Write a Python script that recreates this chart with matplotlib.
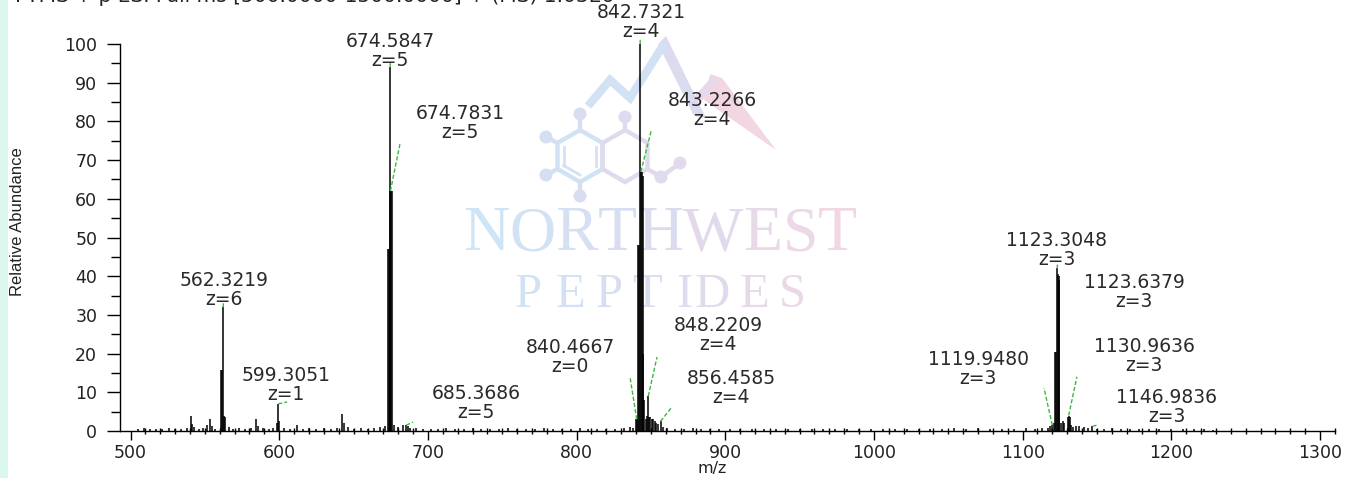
import math
import matplotlib.pyplot as plt
from matplotlib.patches import Rectangle, Circle, Polygon
from matplotlib.ticker import MultipleLocator

# centroid peaks: m/z and relative abundance
peak_mz = [505, 509, 513, 517, 521, 526, 530, 534, 538, 540.5, 541.5, 543, 546, 549,
           551.5, 553.5, 554.5, 557, 561.0, 561.6, 562.32, 563.0, 563.6, 566, 569, 573,
           577, 581, 584.5, 586, 589, 593, 596, 598.5, 599.3051, 600, 603, 607, 612, 616,
           620, 625, 630, 635, 639, 642.5, 643.5, 646, 650, 655, 660, 664, 668, 671,
           673.1, 673.7, 674.2, 674.5847, 674.7831, 675.3, 675.9, 677, 680, 683, 685.3686,
           686.5, 688, 692, 697, 702, 707, 712, 718, 724, 730, 736, 742, 748, 754, 760,
           766, 772, 778, 784, 790, 796, 802, 808, 814, 820, 826, 832, 836, 838, 839.8,
           840.4667, 841.5, 842.1, 842.7321, 843.2266, 843.8, 844.4, 845.0, 845.6, 846.5,
           847.5, 848.2209, 848.8, 849.5, 850.5, 851.5, 852.5, 853.5, 855, 856.4585, 858,
           861, 866, 872, 878, 884, 890, 896, 903, 910, 918, 926, 934, 942, 950, 958, 966,
           974, 982, 990, 998, 1006, 1014, 1022, 1030, 1038, 1046, 1054, 1062, 1070, 1078,
           1086, 1094, 1102, 1108, 1113, 1117, 1118.5, 1119.9480, 1121, 1121.6, 1122.3,
           1123.3048, 1123.6379, 1124.2, 1124.8, 1126, 1127, 1128, 1130.3, 1130.9636,
           1131.6, 1132.5, 1134, 1136, 1138, 1141, 1144, 1146.9836, 1150, 1155, 1160, 1166,
           1172, 1178, 1185, 1192, 1200, 1208, 1215, 1222, 1228]
peak_int = [0.5, 0.8, 0.4, 0.6, 0.5, 0.7, 0.5, 0.6, 0.8, 4.0, 1.8, 1.0, 0.6, 0.8,
            1.6, 3.0, 1.2, 0.6, 15.8, 15.8, 32, 4.0, 3.6, 1.0, 0.6, 0.8,
            0.5, 0.7, 3.0, 1.2, 0.8, 0.6, 0.8, 2.0, 7.0, 2.5, 0.8, 0.6, 1.5, 0.6,
            0.8, 0.6, 0.7, 0.6, 0.8, 4.5, 2.0, 1.0, 0.6, 0.7, 0.6, 0.8, 1.0, 1.2,
            47, 47, 47, 94, 62, 62, 62, 1.5, 1.0, 1.5, 1.5,
            1.2, 0.8, 0.7, 0.5, 0.6, 0.5, 0.7, 0.5, 0.6, 0.8, 0.5, 0.6, 0.5, 0.7, 0.5,
            0.6, 0.5, 0.7, 0.5, 0.6, 0.5, 0.7, 0.5, 0.6, 0.5, 0.6, 0.8, 1.0, 0.7, 3.0,
            3.0, 48, 48, 100, 67, 67, 66, 20, 8, 3.0,
            4.0, 9.0, 3.5, 3.5, 3.0, 3.0, 2.5, 2.0, 1.8, 2.5, 1.0,
            0.8, 0.6, 0.6, 0.8, 0.5, 0.6, 0.5, 0.6, 0.5, 0.6, 0.5, 0.6, 0.5, 0.5, 0.6, 0.5,
            0.6, 0.5, 0.5, 0.6, 0.5, 0.6, 0.5, 0.5, 0.6, 0.5, 0.7, 0.5, 0.7, 0.5,
            0.6, 0.5, 0.7, 0.6, 0.8, 0.8, 1.2, 1.5, 2.0, 20.5, 20.5,
            42, 40.5, 40, 39, 2.0, 2.5, 2.0, 3.5, 4.0,
            3.5, 1.5, 1.0, 1.2, 1.2, 1.0, 0.8, 1.2, 0.6, 0.6, 0.7, 0.5,
            0.6, 0.5, 0.6, 0.5, 0.5, 0.4, 0.5, 0.4, 0.3]

# annotated peaks
label_mz = [842.7321, 674.5847, 674.7831, 843.2266, 562.3219, 599.3051, 685.3686,
            840.4667, 848.2209, 856.4585, 1123.3048, 1123.6379, 1119.9480, 1130.9636,
            1146.9836]
label_z = [4, 5, 5, 4, 6, 1, 5, 0, 4, 4, 3, 3, 3, 3, 3]
label_int = [100, 94, 62, 67, 32, 7, 1.5, 3, 9, 2.5, 42, 40.5, 1.5, 4, 1.2]

# label block centres and green leader ends (data units)
label_pos = [(843.3, 105.7), (674.5, 98.3), (721.6, 79.5), (891.1, 82.9), (562.9, 36.5),
             (604.6, 11.8), (732.4, 7.2), (795.6, 19.1), (895.1, 24.7), (903.9, 11.1),
             (1123.1, 46.8), (1174.9, 35.8), (1070.0, 16.0), (1181.6, 19.3), (1197.1, 6.2)]
leader_end = [(842.8, 101.2), (674.7, 95.2), (681.3, 74.4), (850.1, 77.5), (562.4, 33.0),
              (605.3, 7.5), (690.0, 2.3), (835.9, 14.0), (854.1, 19.1), (863.5, 5.9),
              (1123.4, 43.0), (1123.7, 40.6), (1114.4, 11.1), (1136.5, 14.0), (1150.7, 1.6)]

W, H = 1363, 478
fig = plt.figure(figsize=(W / 100, H / 100), dpi=100)

# watermark layer in pixel coordinates
wm = fig.add_axes([0, 0, 1, 1], zorder=0)
wm.set_xlim(0, W)
wm.set_ylim(H, 0)
wm.axis('off')
wm.add_patch(Rectangle((0, 0), 8, H, color='#dcf7ef', lw=0))

blue = (0.80, 0.90, 0.965)
lav = (0.86, 0.86, 0.94)
pink = (0.95, 0.84, 0.89)


def wm_color(x):
    t = min(max((x - 470) / (850 - 470), 0), 1)
    if t < 0.5:
        a, b, s = blue, lav, t / 0.5
    else:
        a, b, s = lav, pink, (t - 0.5) / 0.5
    return tuple(a[i] + (b[i] - a[i]) * s for i in range(3))


# NORTHWEST letter by letter (Times advance widths) so each gets its own colour
adv = [0.722, 0.722, 0.667, 0.611, 0.722, 0.944, 0.611, 0.556, 0.611]
em = 394 / sum(adv)
x = 463
for ch, a in zip("NORTHWEST", adv):
    cx = x + a * em / 2
    wm.text(cx, 250, ch, ha='center', va='baseline', fontsize=46,
            family='Liberation Serif', color=wm_color(cx))
    x += a * em

pep_x = [528, 570, 609, 647, 684, 712, 754, 792]
for ch, cx in zip("PEPTIDES", pep_x):
    wm.text(cx, 307, ch, ha='center', va='baseline', fontsize=35,
            family='Liberation Serif', color=wm_color(cx))


# molecule logo
def hexagon(cx, cy, r):
    return [(cx + r * math.cos(math.radians(90 - 60 * k)),
             cy - r * math.sin(math.radians(90 - 60 * k))) for k in range(7)]


ring1 = hexagon(580, 156, 26)
wm.plot([p[0] for p in ring1], [p[1] for p in ring1], color=wm_color(520), lw=3.2,
        solid_joinstyle='miter')
ring2 = hexagon(625, 156, 26)
wm.plot([p[0] for p in ring2], [p[1] for p in ring2], color=wm_color(680), lw=3.2,
        solid_joinstyle='miter')
inner = hexagon(580, 156, 19)
for a, b in [(3, 4), (4, 5), (1, 2)]:
    wm.plot([inner[a][0], inner[b][0]], [inner[a][1], inner[b][1]],
            color=wm_color(520), lw=2)
stems = [((580, 130), (580, 114)), ((557.5, 143), (546, 137)),
         ((557.5, 169), (546, 175)), ((580, 182), (580, 196)),
         ((625, 130), (625, 117)), ((647.5, 169), (661, 177)), ((661, 177), (680, 163))]
for (x1, y1), (x2, y2) in stems:
    wm.plot([x1, x2], [y1, y2], color=wm_color((x1 + x2) / 2 + 40), lw=3.2)
for cx, cy in [(580, 114), (546, 137), (546, 175), (580, 196), (625, 117),
               (661, 177), (680, 163)]:
    wm.add_patch(Circle((cx, cy), 6.5, color=wm_color(cx + 40), lw=0))

# mountains
wm.plot([588, 610, 630, 664], [106, 80, 98, 44], color=wm_color(540), lw=6,
        solid_joinstyle='miter', solid_capstyle='butt')
wm.add_patch(Polygon([(658, 44), (666, 36), (706, 118), (694, 116)],
                     color=wm_color(660), lw=0))
wm.plot([697, 716], [100, 78], color=wm_color(760), lw=6, solid_capstyle='butt')
wm.add_patch(Polygon([(710, 74), (722, 78), (776, 150), (704, 100)],
                     color=wm_color(850), lw=0))

# the spectrum
ax = fig.add_axes([120 / W, 1 - 431 / H, (1335 - 120) / W, (431 - 44) / H], zorder=1)
ax.patch.set_alpha(0)
ax.vlines(peak_mz, 0, peak_int, color='black', lw=1.1, clip_on=False)

for mz, z, yi, (tx, ty), (ex, ey) in zip(label_mz, label_z, label_int, label_pos, leader_end):
    ax.plot([mz, ex], [yi, ey], color='#3cb83c', lw=1.0, ls=(0, (3, 1.5)), clip_on=False)
    ax.text(tx, ty, f"{mz:.4f}\nz={z}", ha='center', va='center', fontsize=13.5,
            color='#2a2a2a', linespacing=1.0, clip_on=False)

ax.set_xlim(492.9, 1310.1)
ax.set_ylim(0, 100)
ax.set_xticks(range(500, 1301, 100))
ax.xaxis.set_minor_locator(MultipleLocator(10))
ax.set_yticks(range(0, 101, 10))
ax.yaxis.set_minor_locator(MultipleLocator(5))
for s in ['top', 'right']:
    ax.spines[s].set_visible(False)
for s in ['left', 'bottom']:
    ax.spines[s].set_linewidth(1.0)
ax.tick_params(axis='y', which='major', length=9.4, width=1.0, pad=7, labelsize=12.5,
               labelcolor='#222222')
ax.tick_params(axis='y', which='minor', length=6.5, width=1.0)
ax.tick_params(axis='x', which='major', length=6.5, width=1.0, pad=2.5, labelsize=12.5,
               labelcolor='#222222')
ax.tick_params(axis='x', which='minor', length=4, width=1.0, direction='inout')

fig.text(712 / W, 1 - 469 / H, "m/z", ha='center', va='center', fontsize=11.5, color='#222222')
fig.text(18 / W, 1 - 222 / H, "Relative Abundance", ha='center', va='center', rotation=90,
         fontsize=12, family='Liberation Sans', color='#222222')
fig.text(15 / W, 1 - 2.5 / H, "FTMS + p ESI Full ms [500.0000-1500.0000] + (MS) 1.03E6",
         ha='left', va='baseline', fontsize=14.5, color='#222222')

fig.savefig("out.png", dpi=100)
